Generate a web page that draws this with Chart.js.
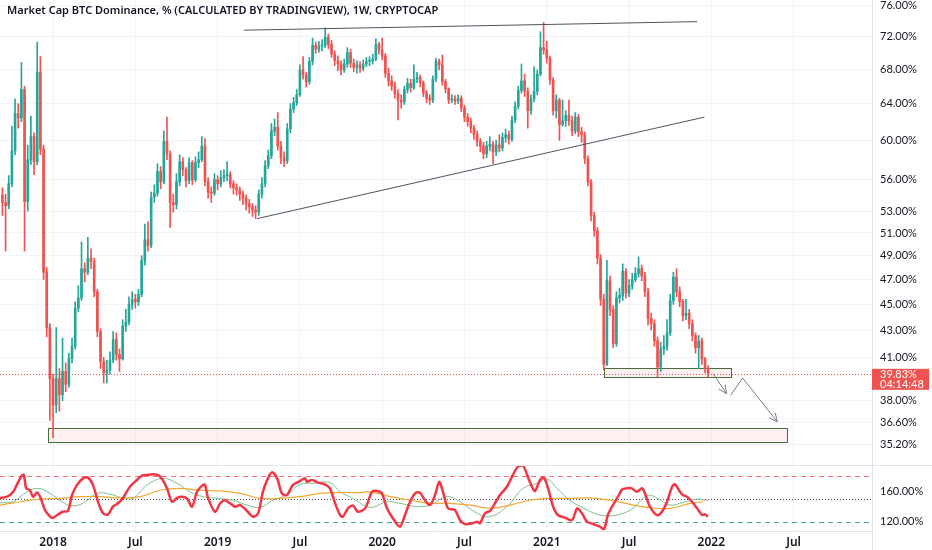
<!DOCTYPE html>
<html>
<head>
<meta charset="utf-8">
<title>Market Cap BTC Dominance</title>
<script src="https://cdn.jsdelivr.net/npm/chart.js@4.4.1/dist/chart.umd.min.js"></script>
<style>
  html, body { margin: 0; padding: 0; background: #ffffff; }
  #wrap { position: relative; width: 932px; height: 550px; }
</style>
</head>
<body>
<div id="wrap"><canvas id="chart"></canvas></div>
<script>
// Weekly candles, week 0 = first visible bar. Open of each bar = previous close.
const firstOpen = 54.5;
const closes = [
  53.8, 53.5, 55.6, 58.9, 62.9, 62.4, 65.6, 53.9, 58.0, 60.4,
  57.8, 67.6, 59.1, 47.6, 43.2, 39.5, 37.7, 39.5, 38.4, 40.0,
  39.1, 40.9, 41.8, 44.7, 45.5, 47.9, 47.6, 48.8, 48.5, 46.0,
  42.9, 40.7, 39.9, 40.1, 40.8, 42.3, 41.2, 40.9, 43.3, 43.6,
  45.0, 45.4, 45.2, 45.8, 48.6, 50.4, 49.9, 54.3, 54.7, 56.8,
  55.8, 59.9, 58.6, 53.8, 53.6, 55.8, 57.8, 57.0, 55.9, 57.7,
  56.0, 57.7, 58.0, 59.4, 55.8, 54.8, 54.7, 56.0, 55.6, 56.2,
  56.4, 56.5, 55.6, 55.2, 55.0, 54.6, 54.2, 53.7, 53.4, 53.1,
  52.9, 54.6, 55.6, 57.4, 58.4, 61.0, 61.4, 59.4, 58.2, 57.9,
  61.2, 63.4, 64.1, 65.0, 67.9, 67.3, 66.5, 68.9, 70.9, 70.4,
  70.8, 70.9, 71.9, 71.0, 69.8, 69.0, 68.6, 67.9, 68.6, 70.0,
  68.7, 68.2, 68.5, 68.1, 68.6, 68.9, 69.0, 69.2, 71.0, 70.3,
  69.6, 67.5, 66.6, 66.0, 65.1, 64.4, 64.2, 65.6, 66.3, 65.8,
  66.8, 67.0, 66.4, 65.2, 64.6, 64.4, 66.8, 68.9, 68.5, 66.5,
  65.7, 64.4, 64.5, 64.3, 64.6, 63.5, 62.5, 62.0, 61.3, 60.6,
  59.9, 59.4, 58.6, 59.4, 59.6, 58.8, 59.5, 59.2, 60.3, 60.6,
  60.1, 62.2, 63.7, 65.5, 66.6, 65.4, 63.2, 64.5, 65.4, 67.4,
  70.6, 70.3, 69.3, 66.7, 63.2, 64.4, 61.7, 62.1, 62.7, 62.1,
  61.0, 62.5, 60.9, 60.6, 58.1, 55.8, 52.6, 51.2, 48.8, 45.4,
  40.5, 46.9, 44.6, 42.0, 45.5, 45.7, 47.7, 45.9, 46.5, 47.0,
  47.5, 47.9, 47.3, 46.0, 43.9, 43.5, 42.2, 40.3, 41.6, 41.8,
  42.8, 45.3, 47.2, 46.0, 45.2, 44.1, 44.3, 43.5, 42.6, 41.7,
  42.2, 40.9, 40.2, 39.83
];
const highs = [
  55.2, 54.6, 56.4, 61.5, 64.5, 64.0, 68.8, 66.0, 59.5, 62.6,
  60.8, 71.3, 69.5, 59.5, 48.0, 43.5, 39.8, 43.2, 40.2, 42.4,
  40.6, 41.3, 42.4, 45.2, 46.5, 50.2, 48.4, 50.6, 49.6, 48.8,
  46.2, 43.1, 41.0, 40.8, 41.4, 42.9, 42.8, 41.6, 43.8, 44.6,
  45.6, 46.0, 45.8, 46.2, 49.0, 51.8, 52.0, 54.8, 55.5, 57.6,
  57.3, 61.0, 62.5, 58.9, 54.6, 56.6, 58.5, 58.2, 57.2, 58.2,
  57.9, 58.3, 58.8, 60.4, 60.2, 56.2, 55.3, 56.6, 56.4, 56.9,
  57.0, 57.8, 56.8, 55.9, 55.6, 55.3, 54.9, 54.5, 54.1, 53.7,
  53.5, 55.0, 56.2, 57.9, 59.0, 61.8, 62.3, 63.0, 59.9, 58.8,
  61.8, 64.0, 64.7, 65.6, 68.5, 69.5, 67.6, 69.4, 71.8, 71.3,
  71.4, 71.6, 73.1, 72.3, 71.5, 70.2, 69.6, 69.0, 69.2, 70.6,
  70.4, 69.2, 69.0, 68.9, 69.1, 69.4, 69.5, 69.8, 71.7, 71.3,
  71.8, 69.9, 68.1, 67.2, 66.5, 65.6, 65.0, 66.0, 66.9, 66.8,
  68.5, 67.6, 67.3, 66.6, 65.5, 65.0, 67.2, 69.3, 69.2, 69.7,
  66.8, 65.8, 65.0, 64.9, 65.0, 64.9, 63.8, 62.9, 62.4, 61.6,
  61.0, 60.2, 59.8, 59.9, 60.4, 59.9, 60.0, 60.6, 60.8, 61.2,
  61.0, 62.6, 64.2, 66.0, 68.6, 67.4, 65.8, 65.0, 68.3, 67.9,
  72.6, 73.8, 71.4, 69.6, 67.0, 65.0, 64.6, 64.4, 63.2, 64.4,
  62.6, 63.0, 62.8, 61.4, 60.9, 58.4, 56.0, 52.9, 51.5, 49.1,
  45.8, 48.6, 47.3, 44.9, 46.0, 46.3, 48.3, 47.9, 47.0, 47.5,
  48.0, 48.9, 48.2, 47.6, 46.3, 44.3, 43.8, 42.5, 42.1, 42.6,
  43.8, 45.8, 47.6, 47.9, 46.4, 45.4, 45.4, 44.6, 43.8, 42.8,
  42.6, 42.4, 41.0, 40.4
];
const lows = [
  52.6, 49.4, 53.2, 55.3, 58.5, 61.3, 62.0, 49.4, 53.0, 57.5,
  56.5, 57.5, 58.5, 47.0, 42.5, 36.7, 35.6, 37.2, 37.3, 38.0,
  38.6, 38.9, 40.6, 41.6, 44.4, 45.3, 46.8, 47.4, 47.9, 45.6,
  42.5, 40.2, 39.2, 39.2, 39.8, 40.6, 40.8, 40.0, 40.8, 42.9,
  43.4, 44.6, 44.7, 44.9, 45.6, 48.2, 49.4, 49.7, 53.8, 54.4,
  55.1, 55.6, 58.0, 51.5, 52.9, 53.2, 55.4, 56.4, 55.3, 55.6,
  55.5, 55.8, 57.2, 57.8, 55.4, 54.2, 53.8, 54.5, 55.0, 55.3,
  55.8, 55.9, 55.2, 54.6, 54.5, 54.0, 53.6, 53.1, 52.8, 52.5,
  52.3, 52.6, 54.2, 55.3, 57.1, 58.1, 60.5, 59.0, 57.6, 57.3,
  57.6, 60.8, 63.0, 63.8, 64.8, 66.8, 65.9, 66.2, 68.5, 69.9,
  70.0, 70.2, 70.6, 70.5, 69.4, 68.4, 67.8, 67.3, 67.6, 68.2,
  68.2, 67.7, 67.5, 67.6, 67.8, 68.3, 68.4, 68.6, 69.0, 69.8,
  69.1, 67.0, 66.0, 65.5, 64.6, 62.2, 63.5, 63.9, 65.2, 65.3,
  65.6, 66.4, 65.9, 64.8, 64.1, 63.9, 64.1, 66.5, 67.9, 66.1,
  65.2, 64.0, 64.1, 63.9, 64.0, 63.1, 62.0, 61.5, 60.8, 60.1,
  59.4, 58.8, 58.1, 58.2, 58.9, 57.6, 58.4, 58.8, 58.9, 59.8,
  59.6, 59.9, 61.9, 63.4, 65.2, 64.8, 61.3, 62.8, 64.2, 65.0,
  67.2, 69.8, 68.7, 66.2, 62.7, 62.4, 60.0, 61.5, 61.5, 61.6,
  60.5, 60.7, 60.4, 59.8, 57.6, 55.4, 52.1, 50.7, 48.3, 44.9,
  40.1, 40.4, 44.1, 41.7, 41.8, 45.1, 45.3, 45.5, 45.6, 46.2,
  46.8, 47.2, 46.9, 45.6, 43.4, 43.0, 41.8, 39.6, 40.0, 41.2,
  41.5, 42.6, 45.0, 45.6, 44.8, 43.7, 43.8, 43.1, 42.2, 41.3,
  40.2, 40.5, 39.9, 39.6
];

const priceTicks = [76, 72, 68, 64, 60, 56, 53, 51, 49, 47, 45, 43, 41, 38, 36.6, 35.2];
const xTickWeeks = [16, 42, 68, 94, 120, 146, 172, 198, 224, 250];
const xTickLabels = ['2018', 'Jul', '2019', 'Jul', '2020', 'Jul', '2021', 'Jul', '2022', 'Jul'];

// Lower pane oscillator
const oscTicks = [120, 160];
const oscBands = [180, 150, 120];
const fastWeeks = [
  -0.8, 1.5, 3.4, 5, 6.2, 6.8, 7.5, 8.7, 9.7, 10.9,
  11.9, 13.5, 15.7, 17.3, 19.1, 20.7, 22, 23.6, 25.5, 27,
  28.6, 30.2, 31.8, 33.4, 34.9, 36.5, 38.1, 40.3, 42.5, 44.1,
  45.7, 47.6, 49.5, 50.7, 52, 53.6, 55.2, 56.7, 58.3, 59.9,
  61.5, 63.1, 64, 65, 67.2, 68.8, 70.3, 71.9, 73.5, 75.1,
  77.3, 79.2, 80.8, 82.3, 83.9, 85.2, 86.8, 88.3, 89.9, 91.8,
  94, 95.6, 96.2, 97.8, 99.7, 101.9, 103.5, 105.1, 106.7, 107.6,
  109.2, 110.8, 112.3, 114.6, 116.8, 118.4, 119.9, 121.5, 123.4, 125.6,
  127.2, 128.8, 130.4, 131.9, 133.5, 135.1, 136.7, 138, 139.2, 140.8,
  143, 144.6, 146.2, 148.4, 150, 150.9, 152.5, 154.1, 155.6, 157.2,
  159.4, 161.3, 162.9, 164.5, 165.8, 167.3, 168.3, 169.9, 171.1, 172.4,
  174, 175.5, 177.8, 180, 181.6, 183.1, 184.7, 186.6, 188.8, 190.1,
  191.3, 192.9, 194.5, 195.8, 197.3, 198.9, 200.5, 202.1, 203, 204.6,
  206.8, 208.4, 210, 211.6, 212.5, 214.1, 215, 216.3, 217.9, 219.5,
  221.1, 222, 222.9
];
const fastValues = [
  151, 152.6, 159, 172, 180, 181, 163.5, 161, 152.6, 158,
  152.6, 135, 125, 128.7, 133, 134, 154.8, 168, 176.5, 177.4,
  168, 146, 131, 129.6, 139.6, 144, 151, 165.6, 174.4, 180,
  181, 181.7, 180, 174, 163.5, 146, 151, 152.6, 150.4, 139.6,
  159, 167, 168, 150.4, 133, 144, 148, 144, 139.6, 141.7,
  134, 126.5, 131, 159, 176.5, 184.3, 176.5, 157, 154.8, 168,
  173, 176.5, 172, 174.4, 171, 168.7, 163.5, 144, 128.7, 126.5,
  137.4, 141, 133, 137.4, 159, 160, 157, 137.4, 124.3, 113.5,
  128.7, 146, 157, 158, 148, 141.7, 154.8, 172, 159, 137.4,
  135.2, 122, 117, 117.8, 120, 117.8, 131, 134, 144, 154.8,
  165.6, 181, 191.7, 193, 181, 165.6, 160, 174.4, 177.4, 163.5,
  139.6, 128.7, 125.2, 122.2, 137.4, 131, 120, 117, 113.5, 110.4,
  128.7, 141.7, 152.6, 162, 163.5, 163.5, 159, 163.5, 157, 139.6,
  128.7, 133, 146, 165.6, 168.7, 159, 154.8, 152.6, 146, 137.4,
  128.7, 129.6, 126.5
];
const signalWeeks = [
  -0.8, 3.4, 7.8, 11.2, 15, 18.2, 21.4, 25.5, 29.9, 34,
  38.1, 41.3, 45.7, 50.7, 55.2, 59.3, 63.4, 67.8, 72.9, 77.3,
  81.4, 85.5, 89.9, 94, 98.1, 103.5, 106.7, 110.8, 116.1, 121.5,
  125.6, 131, 135.1, 140.5, 144.6, 150, 154.1, 159.4, 164.5, 169,
  172.1, 175.2, 179.3, 183.4, 188.8, 194.2, 199.2, 203.7, 206.8, 210.9,
  215, 219.5, 222.9
];
const signalValues = [
  144.8, 146, 159, 163.5, 157, 148, 141, 144, 157, 155.7,
  151, 150.4, 168, 176.5, 170, 159, 152.6, 150.4, 148, 141.7,
  138.7, 148, 154.8, 168.7, 170, 171, 159, 150.4, 138.7, 146,
  144, 139.6, 141.7, 152.6, 146, 131, 126.5, 139.6, 163.5, 170,
  175.7, 163.5, 148, 138.3, 128.7, 128.7, 137.4, 154, 151, 141.7,
  145, 149.6, 147.4
];
const slowWeeks = [
  -0.8, 5.6, 11.9, 18.2, 24.5, 30.8, 37.2, 43.5, 49.8, 56.1,
  62.4, 68.8, 75.1, 81.4, 87.7, 94, 100.3, 106.7, 113, 116.1,
  122.5, 128.8, 135.1, 141.4, 147.7, 154.1, 160.4, 166.7, 173, 179.3,
  185.7, 192, 198.3, 204.6, 210.9, 217.3, 221.4
];
const slowValues = [
  141.7, 146, 149.6, 150.4, 152.6, 152.6, 151, 152.6, 161, 163.5,
  161, 160, 157, 150.4, 150.4, 152.6, 157, 158, 158, 159,
  152.6, 148, 144, 144, 141.7, 137.4, 141.7, 148, 150.4, 150.4,
  151, 148, 142.6, 138.3, 137.4, 144, 146
];

// Drawings on the price pane
const topLineWeeks = [76.3, 219.5];
const topLineValues = [72.8, 73.9];
const baseLineWeeks = [80.5, 221.8];
const baseLineValues = [52.3, 62.5];
const zoneFrom = [14.5, 190.1];
const zoneTo = [248, 230.1];
const zoneLow = [35.36, 39.6];
const zoneHigh = [36.23, 40.24];
const arrowOneWeeks = [224.6, 228.8];
const arrowOneValues = [39.82, 38.47];
const arrowTwoWeeks = [230.1, 233.9, 244.8];
const arrowTwoValues = [38.36, 39.54, 36.62];
const countdown = '04:14:48';
const title = 'Market Cap BTC Dominance, % (CALCULATED BY TRADINGVIEW), 1W, CRYPTOCAP';

const UP = '#26a69a';
const DOWN = '#ef5350';
const FONT = "'Noto Sans', sans-serif";
const AXIS_FONT = "Lato, sans-serif";

const opens = [firstOpen].concat(closes.slice(0, -1));
const candleColors = closes.map((c, i) => (c >= opens[i] ? UP : DOWN));
const pairs = (xs, ys) => xs.map((x, i) => ({ x: x, y: ys[i] }));

function drawArrowHead(ctx, xs, ys, weeks, values) {
  const n = weeks.length;
  const x1 = xs.getPixelForValue(weeks[n - 2]), y1 = ys.getPixelForValue(values[n - 2]);
  const x2 = xs.getPixelForValue(weeks[n - 1]), y2 = ys.getPixelForValue(values[n - 1]);
  const a = Math.atan2(y2 - y1, x2 - x1);
  ctx.beginPath();
  ctx.moveTo(x2 - 9 * Math.cos(a - 0.45), y2 - 9 * Math.sin(a - 0.45));
  ctx.lineTo(x2, y2);
  ctx.lineTo(x2 - 9 * Math.cos(a + 0.45), y2 - 9 * Math.sin(a + 0.45));
  ctx.stroke();
}

const overlay = {
  id: 'overlay',
  beforeDatasetsDraw(chart) {
    const { ctx, chartArea } = chart;
    const { x, price, osc } = chart.scales;
    ctx.save();
    // support zones
    for (let i = 0; i < zoneFrom.length; i++) {
      const x1 = Math.round(x.getPixelForValue(zoneFrom[i])) + 0.5;
      const x2 = Math.round(x.getPixelForValue(zoneTo[i])) + 0.5;
      const y1 = Math.round(price.getPixelForValue(zoneHigh[i])) + 0.5;
      const y2 = Math.round(price.getPixelForValue(zoneLow[i])) + 0.5;
      ctx.fillStyle = 'rgba(242, 54, 69, 0.08)';
      ctx.fillRect(x1, y1, x2 - x1, y2 - y1);
      ctx.strokeStyle = '#44703c';
      ctx.lineWidth = 1;
      ctx.strokeRect(x1, y1, x2 - x1, y2 - y1);
    }
    // last price dotted line
    const py = Math.round(price.getPixelForValue(closes[closes.length - 1])) + 0.5;
    ctx.strokeStyle = DOWN;
    ctx.setLineDash([1, 2]);
    ctx.beginPath();
    ctx.moveTo(chartArea.left, py);
    ctx.lineTo(chartArea.right, py);
    ctx.stroke();
    // oscillator bands
    const bandStyle = [['#f7707a', [5, 4]], ['#50535e', [1, 2]], ['#4aa88c', [5, 4]]];
    oscBands.forEach((v, i) => {
      const y = Math.round(osc.getPixelForValue(v)) + 0.5;
      ctx.strokeStyle = bandStyle[i][0];
      ctx.setLineDash(bandStyle[i][1]);
      ctx.beginPath();
      ctx.moveTo(chartArea.left, y);
      ctx.lineTo(chartArea.right, y);
      ctx.stroke();
    });
    ctx.restore();
  },
  afterDraw(chart) {
    const { ctx, chartArea } = chart;
    const { x, price } = chart.scales;
    ctx.save();
    // pane separator and axis line
    ctx.strokeStyle = '#e0e3eb';
    ctx.lineWidth = 1;
    ctx.beginPath();
    ctx.moveTo(0, Math.round(price.bottom) + 0.5);
    ctx.lineTo(price.right, Math.round(price.bottom) + 0.5);
    ctx.moveTo(Math.round(chartArea.right) + 0.5, 0);
    ctx.lineTo(Math.round(chartArea.right) + 0.5, chart.height);
    ctx.stroke();
    // arrow heads
    ctx.strokeStyle = '#787b86';
    drawArrowHead(ctx, x, price, arrowOneWeeks, arrowOneValues);
    drawArrowHead(ctx, x, price, arrowTwoWeeks, arrowTwoValues);
    // title
    ctx.fillStyle = '#131722';
    ctx.font = '600 11px ' + FONT;
    ctx.textAlign = 'left';
    ctx.textBaseline = 'middle';
    ctx.fillText(title, 7, 11);
    // last price label
    const last = closes[closes.length - 1];
    const py = price.getPixelForValue(last);
    ctx.fillStyle = DOWN;
    ctx.fillRect(price.left, py - 5, 57, 21);
    ctx.fillStyle = '#ffffff';
    ctx.font = '11px ' + AXIS_FONT;
    ctx.fillText(last.toFixed(2) + '%', price.left + 8, py + 0.5);
    ctx.fillText(countdown, price.left + 8, py + 10.5);
    ctx.restore();
  }
};

new Chart(document.getElementById('chart'), {
  type: 'bar',
  data: {
    datasets: [
      {
        label: 'wicks',
        data: closes.map((c, i) => ({ x: i, y: [lows[i], highs[i]] })),
        backgroundColor: candleColors,
        barThickness: 1,
        grouped: false,
        yAxisID: 'price',
        order: 3
      },
      {
        label: 'bodies',
        data: closes.map((c, i) => ({ x: i, y: [opens[i], c] })),
        backgroundColor: candleColors,
        barThickness: 2,
        minBarLength: 1,
        grouped: false,
        yAxisID: 'price',
        order: 2
      },
      {
        type: 'line', label: 'top', data: pairs(topLineWeeks, topLineValues),
        borderColor: '#50535e', borderWidth: 1, pointRadius: 0, yAxisID: 'price', order: 1
      },
      {
        type: 'line', label: 'base', data: pairs(baseLineWeeks, baseLineValues),
        borderColor: '#50535e', borderWidth: 1, pointRadius: 0, yAxisID: 'price', order: 1
      },
      {
        type: 'line', label: 'arrow1', data: pairs(arrowOneWeeks, arrowOneValues),
        borderColor: '#787b86', borderWidth: 1, pointRadius: 0, yAxisID: 'price', order: 1
      },
      {
        type: 'line', label: 'arrow2', data: pairs(arrowTwoWeeks, arrowTwoValues),
        borderColor: '#787b86', borderWidth: 1, pointRadius: 0, yAxisID: 'price', order: 1
      },
      {
        type: 'line', label: 'slow', data: pairs(slowWeeks, slowValues),
        borderColor: '#f5a733', borderWidth: 1.2, pointRadius: 0, tension: 0.4,
        yAxisID: 'osc', order: 2
      },
      {
        type: 'line', label: 'signal', data: pairs(signalWeeks, signalValues),
        borderColor: '#7cc08a', borderWidth: 1, pointRadius: 0, tension: 0.4,
        yAxisID: 'osc', order: 2
      },
      {
        type: 'line', label: 'fast', data: pairs(fastWeeks, fastValues),
        borderColor: '#f23645', borderWidth: 2.5, pointRadius: 0, tension: 0.3,
        yAxisID: 'osc', order: 0
      }
    ]
  },
  options: {
    responsive: true,
    maintainAspectRatio: false,
    animation: false,
    events: [],
    layout: { padding: 0 },
    plugins: {
      legend: { display: false },
      tooltip: { enabled: false }
    },
    scales: {
      x: {
        type: 'linear',
        offset: false,
        min: -0.76,
        max: 274.76,
        afterBuildTicks: (s) => { s.ticks = xTickWeeks.map(v => ({ value: v })); },
        afterFit: (s) => { s.height = 19; s.paddingLeft = 0; s.paddingRight = 0; },
        ticks: {
          autoSkip: false,
          maxRotation: 0,
          padding: 4,
          color: '#131722',
          font: { family: FONT, size: 12, weight: '600' },
          callback: (v, i) => xTickLabels[i]
        },
        grid: { color: '#f0f3fa', drawTicks: false, offset: false },
        border: { color: '#e0e3eb' }
      },
      price: {
        type: 'logarithmic',
        position: 'right',
        stack: 'panes',
        stackWeight: 465,
        min: 33.94,
        max: 76.76,
        afterBuildTicks: (s) => { s.ticks = priceTicks.map(v => ({ value: v })); },
        afterFit: (s) => { s.width = 60; s.paddingTop = 0; s.paddingBottom = 0; },
        ticks: {
          autoSkip: false,
          padding: 8,
          color: '#131722',
          font: { family: AXIS_FONT, size: 11 },
          callback: (v) => Number(v).toFixed(2) + '%'
        },
        grid: { color: '#f0f3fa', drawTicks: false },
        border: { color: '#e0e3eb' }
      },
      osc: {
        type: 'linear',
        position: 'right',
        stack: 'panes',
        stackWeight: 66,
        min: 107.9,
        max: 193.9,
        afterBuildTicks: (s) => { s.ticks = oscTicks.map(v => ({ value: v })); },
        afterFit: (s) => { s.width = 60; s.paddingTop = 0; s.paddingBottom = 0; },
        ticks: {
          autoSkip: false,
          padding: 8,
          color: '#131722',
          font: { family: AXIS_FONT, size: 11 },
          callback: (v) => Number(v).toFixed(2) + '%'
        },
        grid: { display: false, drawTicks: false },
        border: { color: '#e0e3eb' }
      }
    }
  },
  plugins: [overlay]
});
</script>
</body>
</html>
